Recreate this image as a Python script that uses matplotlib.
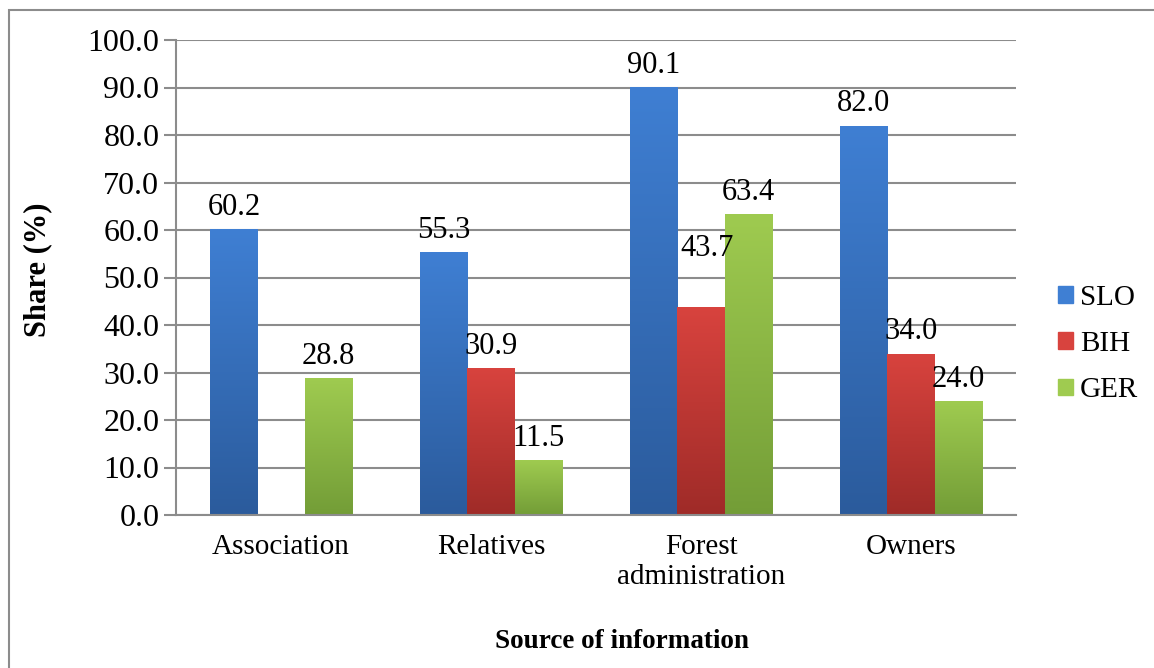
import matplotlib.pyplot as plt
import numpy as np
from matplotlib.colors import LinearSegmentedColormap
from matplotlib.patches import Rectangle

categories = ["Association", "Relatives", "Forest\nadministration", "Owners"]
series = ["SLO", "BIH", "GER"]
slo = [60.2, 55.3, 90.1, 82.0]
bih = [np.nan, 30.9, 43.7, 34.0]
ger = [28.8, 11.5, 63.4, 24.0]
values = [slo, bih, ger]

# (top colour, bottom colour) for the Excel-like gradient fill
grads = [("#3f7fd3", "#2b5b9c"), ("#d8433e", "#9f2b28"), ("#9fcb50", "#739d37")]

# hand-moved data labels in the original: (series, category) -> (dx, dy)
nudges = {(1, 2): (0.03, 7.8)}

plt.rcParams["font.family"] = ["Liberation Serif", "DejaVu Serif"]
plt.rcParams["font.size"] = 21

W, H = 1154, 668
fig = plt.figure(figsize=(W / 100, H / 100), dpi=100)
ax = fig.add_axes([176 / W, 1 - 515 / H, 840 / W, 475 / H])

x = np.arange(len(categories))
width = 0.224
grey = "#8c8c8c"

for i, (vals, name, (top, bottom)) in enumerate(zip(values, series, grads)):
    offs = (i - 1) * width
    bars = ax.bar(x + offs, np.nan_to_num(vals), width, color=top, label=name,
                  zorder=2, linewidth=0)
    cmap = LinearSegmentedColormap.from_list(name, [bottom, top])
    for j, (b, v) in enumerate(zip(bars, vals)):
        if np.isnan(v):
            b.set_visible(False)
            continue
        b.set_alpha(0)
        x0, w, h = b.get_x(), b.get_width(), b.get_height()
        grad = np.linspace(0, 1, 256).reshape(-1, 1)
        im = ax.imshow(grad, cmap=cmap, origin="lower", aspect="auto",
                       extent=[x0, x0 + w, 0, h], zorder=2)
        clip = Rectangle((x0, 0), w, h, transform=ax.transData)
        im.set_clip_path(clip)
        dx, dy = nudges.get((i, j), (0, 0))
        ax.text(x0 + w / 2 + dx, v + 1.5 + dy, f"{v:.1f}", ha="center",
                va="bottom", fontsize=22, zorder=3)

ax.set_xlim(-0.5, len(categories) - 0.5)
ax.set_ylim(0, 100)
ax.set_yticks(np.arange(0, 101, 10))
ax.set_yticklabels([f"{t:.1f}" for t in np.arange(0, 101, 10)], fontsize=23)
ax.set_xticks(x)
ax.set_xticklabels(categories, linespacing=1.2, fontsize=21)
ax.tick_params(axis="x", length=0, pad=14)
ax.tick_params(axis="y", length=9, width=1.5, color=grey, pad=3)
ax.yaxis.grid(True, color=grey, linewidth=1.5, zorder=0)
ax.set_axisbelow(True)
for s in ["top", "right"]:
    ax.spines[s].set_visible(False)
for s in ["left", "bottom"]:
    ax.spines[s].set_color(grey)
    ax.spines[s].set_linewidth(1.5)

fig.text(38 / W, 1 - 270 / H, "Share (%)", rotation=90, ha="center",
         va="center", fontweight="bold", fontsize=22)
fig.text(622 / W, 1 - 642 / H, "Source of information", ha="center",
         va="center", fontweight="bold", fontsize=19.5)

handles = [Rectangle((0, 0), 1, 1, color=g[0]) for g in grads]
leg = ax.legend(handles, series, loc="center left", bbox_to_anchor=(1.05, 0.36),
                frameon=False, handlelength=0.5, handleheight=0.5,
                handletextpad=0.25, labelspacing=0.7, fontsize=21,
                borderpad=0, borderaxespad=0)

# outer chart border (clipped at right/bottom like the original)
fig.patches.append(Rectangle((9 / W, -0.05), 1.1, (H - 10) / H + 0.05,
                             transform=fig.transFigure, fill=False,
                             edgecolor=grey, linewidth=1.5))

fig.savefig("out.png", dpi=100)
